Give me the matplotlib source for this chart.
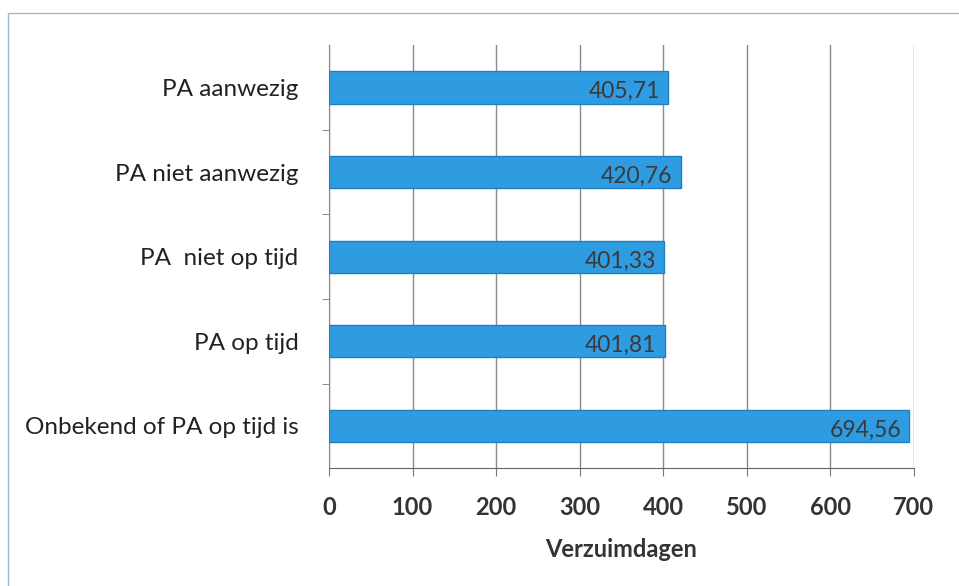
import matplotlib.pyplot as plt
from matplotlib.patches import Rectangle

categories = ['PA aanwezig', 'PA niet aanwezig', 'PA  niet op tijd', 'PA op tijd',
              'Onbekend of PA op tijd is']
values = [405.71, 420.76, 401.33, 401.81, 694.56]
ticks = [0, 100, 200, 300, 400, 500, 600, 700]


def fmt(v):
    return f'{v:.2f}'.replace('.', ',')


def main():
    plt.rcParams['font.family'] = ['Lato', 'DejaVu Sans']
    fig = plt.figure(figsize=(9.59, 5.86), dpi=100)
    ax = fig.add_axes([0.343, 0.201, 0.610, 0.722])

    ypos = list(range(len(categories)))
    ax.barh(ypos, values, height=0.38, color='#2f9ce2', edgecolor='#1f7fc4',
            linewidth=1.0, zorder=3)
    for y, v in zip(ypos, values):
        ax.text(v - 10, y + 0.05, fmt(v), ha='right', va='center',
                fontsize=16.5, color='#3a3a3a', zorder=4)

    ax.set_xlim(0, 700)
    ax.set_ylim(len(categories) - 0.5, -0.5)
    ax.set_xticks(ticks)
    ax.set_xticklabels([str(t) for t in ticks], fontsize=17, fontweight='bold',
                       color='#333333')
    ax.set_yticks(ypos)
    ax.set_yticklabels(categories, fontsize=17.5, color='#222222')
    ax.set_yticks([i + 0.5 for i in range(len(categories) - 1)], minor=True)
    ax.tick_params(axis='y', which='major', length=0, pad=22)
    ax.tick_params(axis='y', which='minor', length=5, color='#777777')
    ax.tick_params(axis='x', length=6, color='#777777', pad=14)
    ax.grid(axis='x', color='#8a8a8a', linewidth=1.0, zorder=0)
    for side in ['top', 'right']:
        ax.spines[side].set_visible(False)
    ax.spines['left'].set_color('#888888')
    ax.spines['bottom'].set_color('#666666')
    ax.set_xlabel('Verzuimdagen', fontsize=17, fontweight='bold',
                  color='#333333', labelpad=14)

    fig.patches.append(Rectangle((0.008, -0.02), 1.1, 0.998, transform=fig.transFigure,
                                 fill=False, edgecolor='#9fb9cc', linewidth=1.0))
    fig.savefig('out.png', dpi=100)


if __name__ == "__main__":
    main()
